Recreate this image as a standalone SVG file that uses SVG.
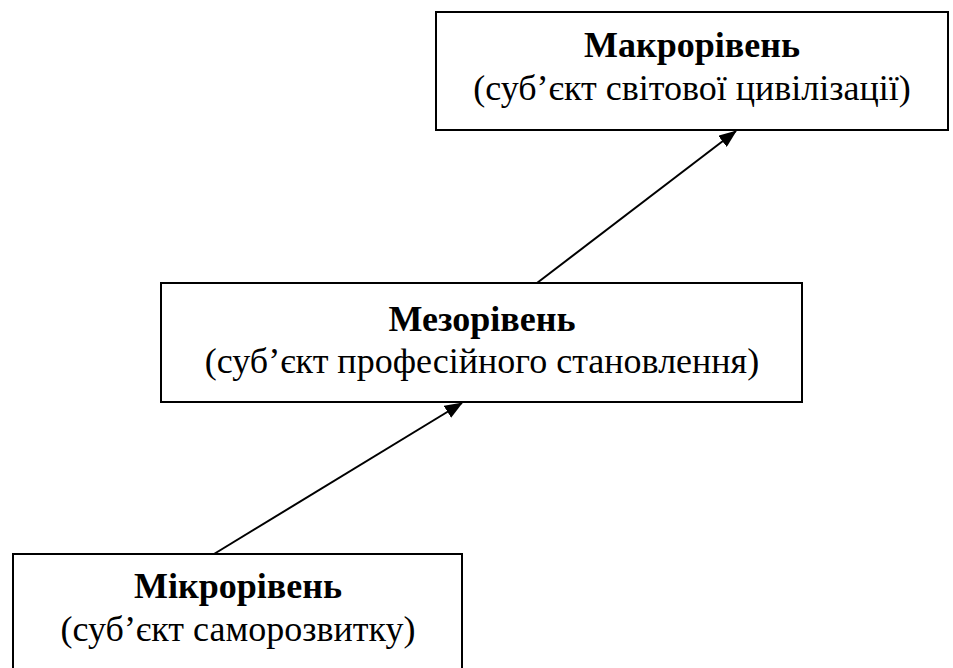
<svg xmlns="http://www.w3.org/2000/svg" width="953" height="668" viewBox="0 0 953 668">
<style>
.box{fill:#fff;stroke:#000;stroke-width:2}
.t{font-family:"Liberation Serif","Times New Roman",serif;font-size:36px;fill:#000;text-anchor:middle}
.b{font-weight:bold}
.c{stroke:#000;stroke-width:2;fill:none}
</style>
<defs>
<marker id="ah2" markerWidth="18" markerHeight="14" refX="17" refY="7" orient="auto" markerUnits="userSpaceOnUse" viewBox="0 0 18 14">
<path d="M0,0 L18,7 L0,14 Z" fill="#000"/>
</marker>
</defs>
<g id="connectors">
<line class="c" x1="214" y1="554" x2="462" y2="403" marker-end="url(#ah2)"/>
<line class="c" x1="537" y1="283" x2="736" y2="131" marker-end="url(#ah2)"/>
</g>
<g id="macro">
<rect class="box" x="436" y="12" width="512" height="118"/>
<text class="t b" x="692" y="57">Макрорівень</text>
<text class="t" x="692" y="100">(суб’єкт світової цивілізації)</text>
</g>
<g id="meso">
<rect class="box" x="161" y="283" width="641" height="119"/>
<text class="t b" x="482" y="331">Мезорівень</text>
<text class="t" x="482" y="373">(суб’єкт професійного становлення)</text>
</g>
<g id="micro">
<rect class="box" x="13" y="554" width="449" height="120"/>
<text class="t b" x="238" y="598">Мікрорівень</text>
<text class="t" x="238" y="641">(суб’єкт саморозвитку)</text>
</g>
</svg>
